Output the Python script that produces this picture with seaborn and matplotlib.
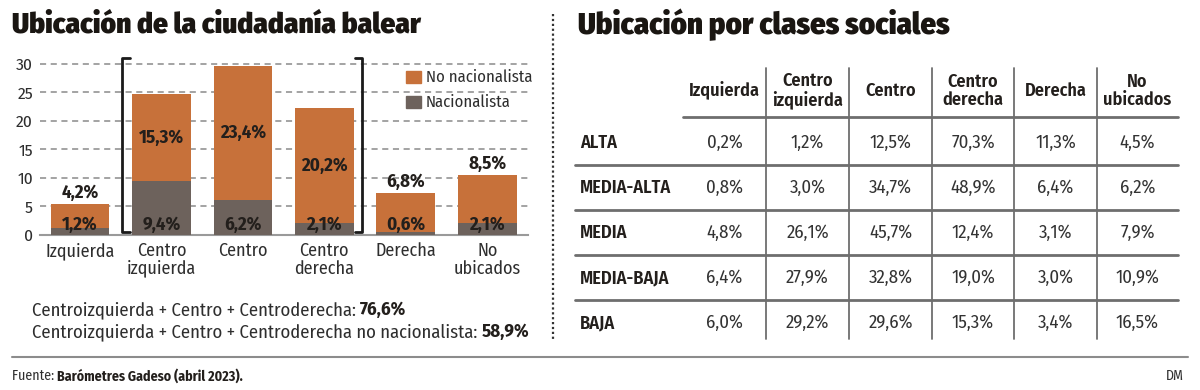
import matplotlib
matplotlib.use("Agg")
import matplotlib.pyplot as plt
import seaborn as sns
import numpy as np
import pandas as pd
from matplotlib.lines import Line2D
from matplotlib.patches import Rectangle

sns.set_style("white")
FONT = ['Fira Sans Condensed', 'DejaVu Sans']
plt.rcParams['font.family'] = FONT

# ---------------- data ----------------
categories = ["Izquierda", "Centro\nizquierda", "Centro", "Centro\nderecha", "Derecha", "No\nubicados"]
nacionalista = [1.2, 9.4, 6.2, 2.1, 0.6, 2.1]
no_nacionalista = [4.2, 15.3, 23.4, 20.2, 6.8, 8.5]
y_ticks = [0, 5, 10, 15, 20, 25, 30]

table_cols = ["Izquierda", "Centro\nizquierda", "Centro", "Centro\nderecha", "Derecha", "No\nubicados"]
table_rows = ["ALTA", "MEDIA-ALTA", "MEDIA", "MEDIA-BAJA", "BAJA"]
row_alta = ["0,2%", "1,2%", "12,5%", "70,3%", "11,3%", "4,5%"]
row_media_alta = ["0,8%", "3,0%", "34,7%", "48,9%", "6,4%", "6,2%"]
row_media = ["4,8%", "26,1%", "45,7%", "12,4%", "3,1%", "7,9%"]
row_media_baja = ["6,4%", "27,9%", "32,8%", "19,0%", "3,0%", "10,9%"]
row_baja = ["6,0%", "29,2%", "29,6%", "15,3%", "3,4%", "16,5%"]
table_values = [row_alta, row_media_alta, row_media, row_media_baja, row_baja]

title_left = "Ubicación de la ciudadanía balear"
title_right = "Ubicación por clases sociales"
summary1 = ("Centroizquierda + Centro + Centroderecha: ", "76,6%")
summary2 = ("Centroizquierda + Centro + Centroderecha no nacionalista: ", "58,9%")
source = ("Fuente: ", "Barómetres Gadeso (abril 2023).")

ORANGE = "#c7713a"
GRAY = "#6d625c"
TXT = "#231f1c"
LTXT = "#2e2e2e"

W, H = 1200, 390
fig = plt.figure(figsize=(12, 3.9), dpi=100)

def fx(x):
    return x / W

def fy(y):
    return 1 - y / H

# ---------------- bar chart ----------------
ax_left, ax_right, ax_bot, ax_top = 40, 528, 235, 58
ax = fig.add_axes([fx(ax_left), fy(ax_bot), fx(ax_right - ax_left), (ax_bot - ax_top) / H])
df = pd.DataFrame({"cat": categories, "nac": nacionalista, "nonac": no_nacionalista})
df["total"] = df["nac"] + df["nonac"]
sns.barplot(data=df, x="cat", y="total", color=ORANGE, width=0.72, ax=ax,
            saturation=1, edgecolor="none", zorder=3)
sns.barplot(data=df, x="cat", y="nac", color=GRAY, width=0.72, ax=ax,
            saturation=1, edgecolor="none", zorder=3)
ax.set_xlim(-0.49, 5.5)
ax.set_ylim(0, 31.05)
ax.set_yticks(y_ticks)
ax.set_yticklabels([str(t) for t in y_ticks])
for t in y_ticks[1:]:
    ax.axhline(t, color="#8a8a8a", lw=1.1, ls=(0, (4, 3)), zorder=1)
for s in ["top", "right", "left"]:
    ax.spines[s].set_visible(False)
ax.spines["bottom"].set_color("#9a9a9a")
ax.spines["bottom"].set_linewidth(1.5)
ax.set_xlabel("")
ax.set_ylabel("")
ax.tick_params(axis="y", length=0, pad=5, labelsize=12.5, labelcolor=LTXT)
ax.tick_params(axis="x", length=0, pad=5, labelsize=13, labelcolor=LTXT)
for lab in ax.get_xticklabels():
    lab.set_linespacing(1.0)
ax.patch.set_alpha(0)

for i, (n, o) in enumerate(zip(nacionalista, no_nacionalista)):
    ax.text(i, 1.75, f"{n:.1f}%".replace(".", ","), ha="center", va="center",
            fontsize=13.5, fontweight="bold", color=TXT, zorder=5)
    lab = f"{o:.1f}%".replace(".", ",")
    if o < 10:
        ax.annotate(lab, (i, n + o), xytext=(0, 1.5), textcoords="offset points",
                    ha="center", va="bottom", fontsize=13.5, fontweight="bold", color=TXT, zorder=5)
    else:
        ax.text(i, n + o / 2, lab, ha="center", va="center",
                fontsize=13.5, fontweight="bold", color=TXT, zorder=5)

# ---------------- overlay ----------------
ov = fig.add_axes([0, 0, 1, 1])
ov.set_xlim(0, W)
ov.set_ylim(H, 0)
ov.axis("off")
ov.patch.set_alpha(0)

fig.canvas.draw()
renderer = fig.canvas.get_renderer()

def fit_text(x, y, s, target_w, base=20, **kw):
    t = ov.text(x, y, s, fontsize=base, **kw)
    bb = t.get_window_extent(renderer=renderer)
    t.set_fontsize(base * target_w / bb.width)
    return t

# titles
fit_text(12, 25, title_left, 408, fontweight=900, color="#1a1612", va="center", ha="left")
fit_text(578, 25, title_right, 370, fontweight=900, color="#1a1612", va="center", ha="left")

# divider
ov.add_line(Line2D([553, 553], [14, 341], color="#333333", lw=1.6, ls=(0, (1, 1.2))))

# brackets
ov.add_line(Line2D([130, 122, 122, 130], [58, 58, 232, 232], color="#1a1a1a", lw=2))
ov.add_line(Line2D([355, 362, 362, 355], [58, 58, 232, 232], color="#1a1a1a", lw=2))

# legend
ov.add_patch(Rectangle((406, 71), 15, 12, color=ORANGE))
ov.add_patch(Rectangle((406, 96), 15, 12, color=GRAY))
ov.text(426, 77, "No nacionalista", fontsize=12, color=LTXT, va="center")
ov.text(426, 102, "Nacionalista", fontsize=12, color=LTXT, va="center")

def mixed(x, y, parts, size, colors=(LTXT, TXT)):
    t1 = ov.text(x, y, parts[0], fontsize=size, color=colors[0], va="center", ha="left")
    bb = t1.get_window_extent(renderer=renderer)
    t2 = ov.text(x + bb.width, y, parts[1], fontsize=size, color=colors[1], va="center",
                 ha="left", fontweight="bold")
    return t1, t2

mixed(32, 310, summary1, 13.4)
mixed(32, 332, summary2, 13.4)

# footer
ov.add_line(Line2D([12, 1188], [357, 357], color="#8c8c8c", lw=1.5))
mixed(12, 376, source, 10)
ov.text(1184, 376, "DM", fontsize=10, color="#333333", va="center", ha="right")

# ---------------- table ----------------
col_edges = [683, 766, 849, 932, 1014, 1097, 1178]
col_centers = [(a + b) / 2 for a, b in zip(col_edges[:-1], col_edges[1:])]
row_centers = [143, 188, 233, 278, 323]
header_y = 91
for c, lab in zip(col_centers, table_cols):
    ov.text(c, header_y, lab, fontsize=13, fontweight=600, color=TXT,
            ha="center", va="center", linespacing=1.05)
ov.add_line(Line2D([683, 1178], [117, 117], color="#6e6e6e", lw=2))
for ly in [165, 210, 255, 300]:
    ov.add_line(Line2D([575, 1178], [ly, ly], color="#6e6e6e", lw=2))
for xe in col_edges[1:-1]:
    ov.add_line(Line2D([xe, xe], [68, 339], color="#6e6e6e", lw=1.3))
for r, (rl, vals) in enumerate(zip(table_rows, table_values)):
    ov.text(580, row_centers[r], rl, fontsize=13.2, fontweight=600, color=TXT,
            ha="left", va="center")
    for c, v in zip(col_centers, vals):
        ov.text(c, row_centers[r], v, fontsize=13.5, fontweight=400, color="#333333",
                ha="center", va="center")

fig.savefig("out.png", dpi=100)
